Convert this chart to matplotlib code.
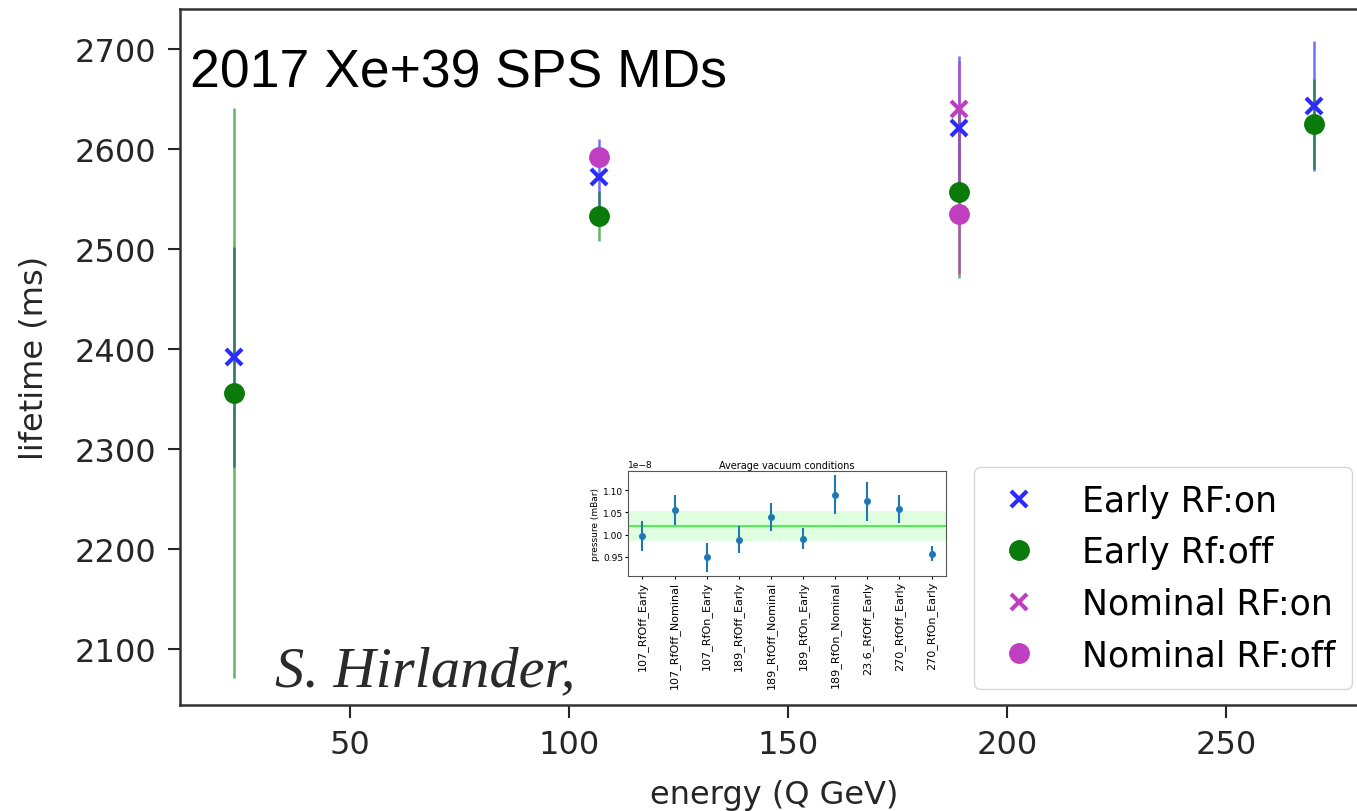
import matplotlib
matplotlib.use("Agg")
import matplotlib.pyplot as plt
import numpy as np

# main chart: lifetime vs energy, one list per series
early_on_energy = [23.6, 107, 189, 270]
early_on_life = [2392, 2572, 2621, 2643]
early_on_err = [110, 38, 72, 65]

early_off_energy = [23.6, 107, 189, 270]
early_off_life = [2356, 2533, 2557, 2625]
early_off_err = [285, 25, 86, 45]

nominal_on_energy = [189]
nominal_on_life = [2640]
nominal_on_err = [48]

nominal_off_energy = [107, 189]
nominal_off_life = [2592, 2535]
nominal_off_err = [10, 60]

# inset: average vacuum conditions (x 1e-8 mBar)
vac_labels = ["107_RfOff_Early", "107_RfOff_Nominal", "107_RfOn_Early",
              "189_RfOff_Early", "189_RfOff_Nominal", "189_RfOn_Early",
              "189_RfOn_Nominal", "23.6_RfOff_Early", "270_RfOff_Early",
              "270_RfOn_Early"]
vac_mean = [0.997, 1.055, 0.949, 0.989, 1.040, 0.991, 1.090, 1.075, 1.058, 0.957]
vac_err = [0.034, 0.033, 0.033, 0.030, 0.032, 0.024, 0.043, 0.044, 0.031, 0.017]
vac_avg = 1.020
vac_band = 0.034


def main():
    fig = plt.figure(figsize=(13.57, 8.12), dpi=100)
    ax = fig.add_axes([0.1326, 0.1305, 0.8755, 0.8571])

    series = [
        (early_on_energy, early_on_life, early_on_err, "x", "#2b2bff",
         (0.2, 0.2, 1, 0.7), "Early RF:on"),
        (early_off_energy, early_off_life, early_off_err, "o", "#0a7a0a",
         (0.0, 0.5, 0.0, 0.6), "Early Rf:off"),
        (nominal_on_energy, nominal_on_life, nominal_on_err, "x", "#c03ec0",
         (0.75, 0.25, 0.75, 0.8), "Nominal RF:on"),
        (nominal_off_energy, nominal_off_life, nominal_off_err, "o", "#c03ec0",
         (0.75, 0.25, 0.75, 0.8), "Nominal RF:off"),
    ]
    handles = []
    for xs, ys, es, mk, col, ecol, lab in series:
        if mk == "x":
            cont = ax.errorbar(xs, ys, yerr=es, fmt="x", color=col, ms=11, mew=3,
                               elinewidth=1.8, ecolor=ecol, label=lab, zorder=3)
        else:
            cont = ax.errorbar(xs, ys, yerr=es, fmt="o", color=col, ms=14,
                               elinewidth=1.8, ecolor=ecol, label=lab, zorder=3)
        handles.append(cont[0])

    ax.set_xlim(11.3, 282.3)
    ax.set_ylim(2044, 2740)
    ax.set_xticks([50, 100, 150, 200, 250])
    ax.set_yticks([2100, 2200, 2300, 2400, 2500, 2600, 2700])
    ax.tick_params(labelsize=23, length=9, width=1.5, colors="#262626", pad=8)
    for s in ax.spines.values():
        s.set_linewidth(1.8)
        s.set_color("#333333")
    ax.set_xlabel("energy (Q GeV)", fontsize=23, color="#262626", labelpad=14)
    ax.set_ylabel("lifetime (ms)", fontsize=23, color="#262626", labelpad=18)

    leg = ax.legend(handles, [s[-1] for s in series], loc="lower right",
                    fontsize=25, borderpad=0.5, labelspacing=0.5,
                    handlelength=1.6, handletextpad=1.0, borderaxespad=0.45)
    leg.get_frame().set_edgecolor("#cccccc")

    fig.text(190 / 1357, 1 - 88 / 812, "2017 Xe+39 SPS MDs", fontsize=38.5,
             family="Liberation Sans", color="black")
    fig.text(275 / 1357, 1 - 686 / 812, "S. Hirlander,", fontsize=42,
             family="Liberation Serif", style="italic", color="#2a2a2a")

    # inset with vacuum conditions
    ins = fig.add_axes([0.4628, 0.2894, 0.2343, 0.1293])
    x = np.arange(len(vac_labels))
    ins.axhspan((vac_avg - vac_band) * 1e-8, (vac_avg + vac_band) * 1e-8,
                color="#ccffcc", alpha=0.6, lw=0)
    ins.axhline(vac_avg * 1e-8, color="#33ee33", lw=1.2)
    ins.errorbar(x, np.array(vac_mean) * 1e-8, yerr=np.array(vac_err) * 1e-8,
                 fmt="o", color="#1f77b4", ms=4, elinewidth=1.5)
    ins.set_xlim(-0.45, 9.45)
    ins.set_ylim(0.907e-8, 1.143e-8)
    ins.set_yticks(np.array([0.95, 1.00, 1.05, 1.10]) * 1e-8)
    ins.set_xticks(x)
    ins.set_xticklabels(vac_labels, rotation=90, fontsize=8)
    ins.tick_params(axis="y", labelsize=6.5, length=2, pad=1.5)
    ins.tick_params(axis="x", length=2, pad=1.5)
    ins.yaxis.get_offset_text().set_fontsize(6.5)
    ins.set_title("Average vacuum conditions", fontsize=7, pad=2)
    ins.set_ylabel("pressure (mBar)", fontsize=6.5, labelpad=2)
    for s in ins.spines.values():
        s.set_linewidth(0.8)
        s.set_color("#555555")

    fig.savefig("out.png", dpi=100)


if __name__ == "__main__":
    main()
